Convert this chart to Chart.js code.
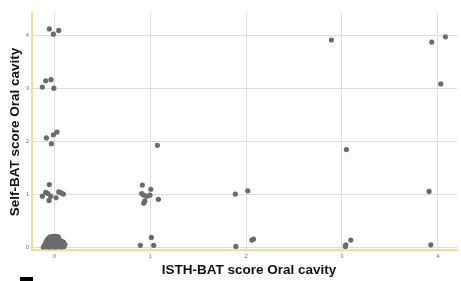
<!DOCTYPE html>
<html>
<head>
<meta charset="utf-8">
<script src="https://cdn.jsdelivr.net/npm/chart.js@4/dist/chart.umd.min.js"></script>
<style>
html,body{margin:0;padding:0;background:#fff;}
#wrap{width:461px;height:281px;position:relative;}
</style>
</head>
<body>
<div id="wrap"><canvas id="c" width="461" height="281"></canvas></div>
<script>
// ISTH-BAT score (x) vs Self-BAT score (y), jittered points
const xValues = [
  // x≈0, y≈4
  -0.052, -0.010, 0.046,
  // x≈0, y≈3
  -0.090, -0.035, -0.125, -0.005,
  // x≈0, y≈2
  -0.083, -0.010, 0.028, -0.031,
  // x≈0, y≈1
  -0.052, -0.125, -0.090, -0.069, -0.038, -0.055, 0.018, 0.046, 0.070, 0.094,
  // x≈0, y≈0 cluster
  -0.115, -0.085, -0.055, -0.020, 0.010, 0.040, 0.075, 0.100,
  -0.105, -0.070, -0.040, -0.005, 0.025, 0.055, 0.085, 0.110,
  -0.090, -0.060, -0.030, 0.000, 0.030, 0.060, 0.095,
  -0.080, -0.050, -0.020, 0.015, 0.045, 0.075,
  -0.065, -0.035, -0.005, 0.025, 0.050,
  -0.045, -0.015, 0.015, 0.040,
  // x≈1
  0.918, 1.006, 0.912, 0.929, 0.964, 0.998, 0.943, 0.933, 1.085, 1.075, 1.012, 0.897, 1.037,
  // x≈2
  1.888, 2.018, 2.060, 2.078, 1.893,
  // x≈3
  2.890, 3.046, 3.092, 3.040, 3.036,
  // x≈4
  3.937, 4.079, 4.031, 3.909, 3.927
];
const yValues = [
  4.13, 4.03, 4.10,
  3.15, 3.17, 3.03, 3.01,
  2.07, 2.13, 2.18, 1.96,
  1.19, 0.97, 1.04, 1.02, 0.97, 0.89, 0.94, 1.05, 1.03, 1.01,
  0.00, 0.01, 0.00, 0.01, 0.00, 0.01, 0.00, 0.02,
  0.04, 0.05, 0.04, 0.05, 0.04, 0.05, 0.06, 0.06,
  0.09, 0.09, 0.10, 0.09, 0.10, 0.09, 0.10,
  0.13, 0.14, 0.13, 0.14, 0.13, 0.12,
  0.17, 0.18, 0.17, 0.18, 0.16,
  0.20, 0.21, 0.21, 0.20,
  1.18, 1.10, 1.02, 0.99, 0.97, 0.99, 0.88, 0.84, 0.91, 1.93, 0.19, 0.04, 0.04,
  1.01, 1.07, 0.14, 0.16, 0.02,
  3.92, 1.85, 0.14, 0.05, 0.02,
  3.88, 3.98, 3.09, 1.06, 0.05
];
const tickValues = [0, 1, 2, 3, 4];
const xTitle = 'ISTH-BAT score Oral cavity';
const yTitle = 'Self-BAT score Oral cavity';

const points = xValues.map((x, i) => ({x: x, y: yValues[i]}));

const titlePlugin = {
  id: 'titles',
  afterDraw(chart) {
    const ctx = chart.ctx;
    const a = chart.chartArea;
    ctx.save();
    ctx.fillStyle = '#111';
    ctx.font = 'bold 13.5px "Liberation Sans", Arial, sans-serif';
    ctx.textAlign = 'center';
    ctx.textBaseline = 'middle';
    ctx.fillText(xTitle, 249, 270);
    ctx.translate(15, 132);
    ctx.rotate(-Math.PI / 2);
    ctx.fillText(yTitle, 0, 0);
    ctx.restore();
    ctx.save();
    ctx.fillStyle = '#000';
    ctx.fillRect(20, 277, 13, 4);
    ctx.restore();
  }
};

new Chart(document.getElementById('c'), {
  type: 'scatter',
  data: {
    datasets: [{
      data: points,
      backgroundColor: '#6b6b6b',
      borderWidth: 0,
      pointRadius: 2.6,
      pointHoverRadius: 2.6
    }]
  },
  options: {
    responsive: false,
    animation: false,
    events: [],
    layout: {padding: {top: 13, right: 4, left: 0, bottom: 0}},
    plugins: {legend: {display: false}, tooltip: {enabled: false}},
    scales: {
      x: {
        type: 'linear',
        min: -0.233,
        max: 4.2,
        afterBuildTicks(scale) { scale.ticks = tickValues.map(v => ({value: v})); },
        afterFit(scale) { scale.height = 31.5; },
        ticks: {
          color: '#777',
          font: {size: 6, family: 'Arial, "Liberation Sans", sans-serif'},
          padding: 3,
          maxRotation: 0
        },
        grid: {color: '#dcdcdc', lineWidth: 1, drawTicks: false},
        border: {color: '#f3df8e', width: 2}
      },
      y: {
        type: 'linear',
        min: -0.038,
        max: 4.43,
        afterBuildTicks(scale) { scale.ticks = tickValues.map(v => ({value: v})); },
        afterFit(scale) { scale.width = 32; },
        ticks: {
          color: '#777',
          font: {size: 6, family: 'Arial, "Liberation Sans", sans-serif'},
          padding: 3
        },
        grid: {color: '#dcdcdc', lineWidth: 1, drawTicks: false},
        border: {color: '#f3df8e', width: 2}
      }
    }
  },
  plugins: [titlePlugin]
});
</script>
</body>
</html>
